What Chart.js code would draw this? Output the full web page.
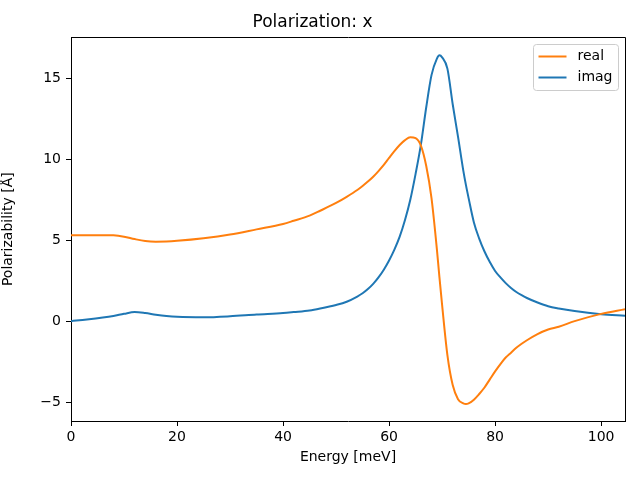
<!DOCTYPE html>
<html>
<head>
<meta charset="utf-8">
<script src="https://cdn.jsdelivr.net/npm/chart.js@4/dist/chart.umd.min.js"></script>
<style>
  html, body { margin: 0; padding: 0; background: #fff; }
  canvas { display: block; }
</style>
</head>
<body>
<canvas id="chart" width="640" height="480"></canvas>
<script>
'use strict';

// ── DATA ─────────────────────────────────────────────────────

const ENERGY = [0, 3, 6, 8, 10, 12, 14, 16, 18, 20, 25, 30, 35, 40, 42, 45, 47, 50, 52, 54,
  55, 56, 57, 58, 59, 60, 61, 62, 63, 64, 65, 66, 67, 68, 69, 69.5, 70,
  71, 72, 73, 74, 74.5, 75, 76, 77, 78, 79, 80, 81, 82, 83, 84, 85, 86,
  88, 90, 92, 95, 100, 104.5];

const REAL = [5.31, 5.31, 5.31, 5.3, 5.22, 5.07, 4.95, 4.91, 4.92, 4.96, 5.12, 5.35, 5.67, 6.0, 6.2, 6.52, 6.82, 7.3, 7.68, 8.1,
  8.35, 8.62, 8.92, 9.27, 9.65, 10.08, 10.5, 10.88, 11.18, 11.36, 11.3, 10.85, 9.6, 7.6, 4.5, 2.7, 1.0,
  -2.1, -3.95, -4.82, -5.08, -5.12, -5.08, -4.85, -4.5, -4.1, -3.6, -3.1, -2.65, -2.25, -1.95, -1.65, -1.4, -1.18,
  -0.8, -0.52, -0.35, 0.0, 0.45, 0.74];

const IMAG = [0, 0.1, 0.22, 0.32, 0.45, 0.56, 0.5, 0.4, 0.32, 0.27, 0.24, 0.3, 0.41, 0.5, 0.56, 0.66, 0.78, 1.0, 1.2, 1.52,
  1.72, 1.98, 2.3, 2.7, 3.18, 3.75, 4.42, 5.22, 6.25, 7.5, 9.1, 10.9, 13.2, 15.2, 16.2, 16.42, 16.3,
  15.6, 13.4, 11.4, 9.3, 8.4, 7.6, 6.1, 5.1, 4.3, 3.65, 3.1, 2.7, 2.35, 2.05, 1.8, 1.6, 1.43,
  1.15, 0.92, 0.78, 0.62, 0.43, 0.33];

const X_RANGE = [0, 104.5];
const Y_RANGE = [-6.17, 17.53];

const FONT = 'DejaVu Sans';

// ── PLUGINS ──────────────────────────────────────────────────

// closes the axes box on top and right
const frameBox = {
  id: 'frameBox',
  afterDraw(chart) {
    const { ctx, chartArea: a } = chart;
    ctx.save();
    ctx.strokeStyle = '#000';
    ctx.lineWidth = 1;
    ctx.beginPath();
    ctx.moveTo(Math.round(a.left) + 0.5, Math.round(a.top) + 0.5);
    ctx.lineTo(Math.round(a.right) + 0.5, Math.round(a.top) + 0.5);
    ctx.lineTo(Math.round(a.right) + 0.5, Math.round(a.bottom) + 0.5);
    ctx.stroke();
    ctx.restore();
  }
};

// matplotlib-style legend inside the upper right corner
const boxLegend = {
  id: 'boxLegend',
  afterDraw(chart) {
    const { ctx, chartArea: a } = chart;
    const sets = chart.data.datasets;
    const w = 85, rowH = 21;
    const h = sets.length * rowH + 4;
    const x = Math.round(a.right - 7 - w) + 0.5;
    const y = Math.round(a.top + 7) + 0.5;

    ctx.save();
    ctx.beginPath();
    ctx.roundRect(x, y, w, h, 3);
    ctx.fillStyle = 'rgba(255,255,255,0.8)';
    ctx.fill();
    ctx.strokeStyle = '#cccccc';
    ctx.lineWidth = 1;
    ctx.stroke();

    ctx.font = '14px ' + FONT;
    ctx.textBaseline = 'middle';
    ctx.textAlign = 'left';
    sets.forEach((ds, i) => {
      const cy = y + 12 + i * rowH;
      ctx.beginPath();
      ctx.moveTo(x + 5, cy);
      ctx.lineTo(x + 33, cy);
      ctx.strokeStyle = ds.borderColor;
      ctx.lineWidth = 2;
      ctx.stroke();
      ctx.fillStyle = '#000';
      ctx.fillText(ds.label, x + 44, cy);
    });
    ctx.restore();
  }
};

// ── CHART ────────────────────────────────────────────────────

const minus = v => String(v).replace('-', '\u2212');

const axisCommon = {
  type: 'linear',
  border: { display: true, color: '#000', width: 1 },
  grid: { display: true, drawOnChartArea: false, drawTicks: true, tickLength: 5, color: '#000' },
};

new Chart(document.getElementById('chart'), {
  type: 'line',
  data: {
    datasets: [
      {
        label: 'real',
        data: ENERGY.map((e, i) => ({ x: e, y: REAL[i] })),
        borderColor: '#ff7f0e',
        borderWidth: 2,
        pointRadius: 0,
        cubicInterpolationMode: 'monotone',
        fill: false
      },
      {
        label: 'imag',
        data: ENERGY.map((e, i) => ({ x: e, y: IMAG[i] })),
        borderColor: '#1f77b4',
        borderWidth: 2,
        pointRadius: 0,
        cubicInterpolationMode: 'monotone',
        fill: false
      }
    ]
  },
  options: {
    responsive: false,
    animation: false,
    layout: { padding: { left: 0, right: 15, top: 0, bottom: 0 } },
    plugins: {
      legend: { display: false },
      tooltip: { enabled: false },
      title: {
        display: true,
        text: 'Polarization: x',
        color: '#000',
        font: { family: FONT, size: 17, weight: 'normal' },
        padding: { top: 12, bottom: 5 }
      }
    },
    scales: {
      x: {
        ...axisCommon,
        min: X_RANGE[0],
        max: X_RANGE[1],
        afterFit: s => { s.height = 59; },
        ticks: {
          stepSize: 20,
          includeBounds: false,
          color: '#000',
          padding: 3,
          maxRotation: 0,
          font: { family: FONT, size: 14 },
          callback: v => minus(v)
        },
        title: {
          display: true,
          text: 'Energy [meV]',
          color: '#000',
          font: { family: FONT, size: 14 },
          padding: { top: 2, bottom: 14 }
        }
      },
      y: {
        ...axisCommon,
        min: Y_RANGE[0],
        max: Y_RANGE[1],
        afterFit: s => { s.width = 71; },
        ticks: {
          stepSize: 5,
          includeBounds: false,
          color: '#000',
          padding: 5,
          font: { family: FONT, size: 14 },
          callback: v => minus(v)
        },
        title: {
          display: true,
          text: 'Polarizability [Å]',
          color: '#000',
          font: { family: FONT, size: 14 },
          padding: { top: 0, bottom: 0 }
        }
      }
    }
  },
  plugins: [frameBox, boxLegend]
});
</script>
</body>
</html>
